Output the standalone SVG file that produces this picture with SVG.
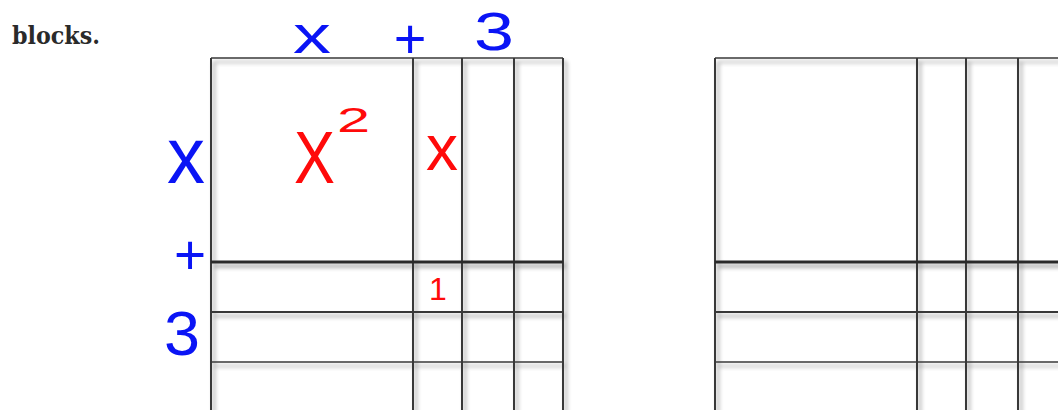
<svg xmlns="http://www.w3.org/2000/svg" width="1058" height="410" viewBox="0 0 1058 410">
<defs>
<filter id="sh" filterUnits="userSpaceOnUse" x="0" y="0" width="1058" height="410">
<feGaussianBlur in="SourceAlpha" stdDeviation="2"/>
<feOffset dx="3" dy="4" result="b"/>
<feComponentTransfer><feFuncA type="linear" slope="0.4"/></feComponentTransfer>
<feMerge><feMergeNode/><feMergeNode in="SourceGraphic"/></feMerge>
</filter>
</defs>
<style>
.ln{stroke:#383838;stroke-width:2;fill:none}
.thick{stroke:#2a2a2a;stroke-width:3}
.thin{stroke-width:1.6}
.hb{font-family:"Liberation Sans",Arial,sans-serif;fill:#0a14f5}
.hr{font-family:"Liberation Sans",Arial,sans-serif;fill:#ff0a0a}
.cap{font-family:"DejaVu Serif",serif;font-weight:bold;font-size:25px;fill:#2a2a2a}
</style>
<rect width="1058" height="410" fill="#ffffff"/>
<text class="cap" x="12" y="44" textLength="88" lengthAdjust="spacingAndGlyphs">blocks.</text>

<g id="grid-left" filter="url(#sh)">
<g id="left-verticals">
<line class="ln" x1="211" y1="58" x2="211" y2="412"/>
<line class="ln" x1="413" y1="58" x2="413" y2="412"/>
<line class="ln" x1="462" y1="58" x2="462" y2="412"/>
<line class="ln" x1="514" y1="58" x2="514" y2="412"/>
<line class="ln" x1="563" y1="58" x2="563" y2="412"/>
</g>
<g id="left-horizontals">
<line class="ln thin" x1="211" y1="58" x2="563" y2="58"/>
<line class="ln thick" x1="211" y1="262" x2="563" y2="262"/>
<line class="ln" x1="211" y1="312" x2="563" y2="312"/>
<line class="ln thin" x1="211" y1="362" x2="563" y2="362"/>
</g>
</g>

<g id="grid-right" filter="url(#sh)">
<g id="right-verticals">
<line class="ln" x1="715" y1="58" x2="715" y2="412"/>
<line class="ln" x1="917" y1="58" x2="917" y2="412"/>
<line class="ln" x1="966" y1="58" x2="966" y2="412"/>
<line class="ln" x1="1018" y1="58" x2="1018" y2="412"/>
</g>
<g id="right-horizontals">
<line class="ln thin" x1="715" y1="58" x2="1060" y2="58"/>
<line class="ln thick" x1="715" y1="262" x2="1060" y2="262"/>
<line class="ln" x1="715" y1="312" x2="1060" y2="312"/>
<line class="ln thin" x1="715" y1="362" x2="1060" y2="362"/>
</g>
</g>

<g id="labels-top">
<text class="hb" x="293" y="53" font-size="54" textLength="38" lengthAdjust="spacingAndGlyphs">x</text>
<text class="hb" x="410" y="58" font-size="56" text-anchor="middle">+</text>
<text class="hb" x="474" y="50" font-size="53" textLength="40" lengthAdjust="spacingAndGlyphs">3</text>
</g>
<g id="labels-left">
<text class="hb" x="167" y="183" font-size="79" textLength="38" lengthAdjust="spacingAndGlyphs">x</text>
<text class="hb" x="190" y="274" font-size="55" text-anchor="middle">+</text>
<text class="hb" x="164" y="355" font-size="63" textLength="36" lengthAdjust="spacingAndGlyphs">3</text>
</g>
<g id="labels-tiles">
<text class="hr" transform="translate(294,183) scale(0.83,1)" x="0" y="0" font-size="74">X</text>
<text class="hr" transform="translate(337,132) scale(1.7,1)" x="0" y="0" font-size="35">2</text>
<text class="hr" x="426" y="170" font-size="64" textLength="32" lengthAdjust="spacingAndGlyphs">x</text>
<text class="hr" x="438" y="300" font-size="32" text-anchor="middle">1</text>
</g>
</svg>
